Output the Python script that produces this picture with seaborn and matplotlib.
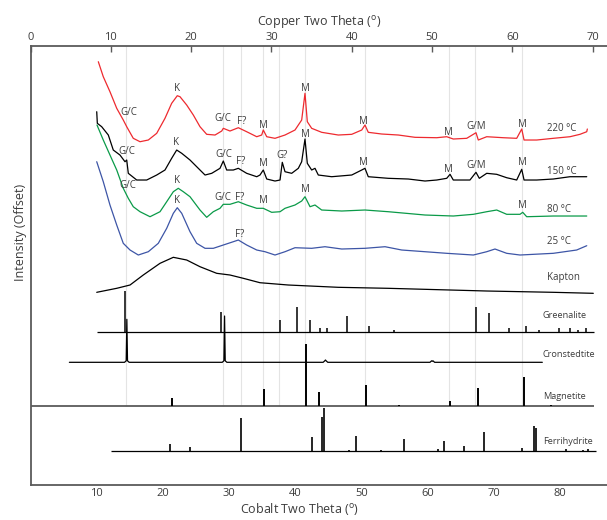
"""
XRD patterns (offset) with reference phase stick patterns.
Bottom axis: Cobalt two theta, top axis: Copper two theta.
"""

import numpy as np
import pandas as pd
import matplotlib
matplotlib.use("Agg")
import matplotlib.pyplot as plt
import seaborn as sns

sns.set_theme(style="white")
plt.rcParams['font.family'] = ['Open Sans', 'DejaVu Sans']
plt.rcParams['mathtext.default'] = 'regular'

# Co two theta -> Cu two theta (linear approximation used on the top axis)
CU_PER_CO = 0.8244

# ---- measured patterns (Co two theta, offset intensity) ----
red_x = [10.23, 10.98, 11.99, 13.01, 14.00, 14.52, 15.51, 16.53, 17.78, 19.05, 20.30, 21.31, 22.16, 22.57,
         23.58, 24.58, 25.59, 26.60, 27.86, 28.87, 29.11, 30.12, 31.38, 32.64, 34.16, 34.91, 35.15, 35.67,
         36.92, 38.43, 39.94, 40.95, 41.45, 41.80, 42.46, 43.97, 46.48, 48.51, 50.02, 50.51, 51.01, 53.04,
         55.55, 58.07, 61.35, 62.86, 63.85, 65.88, 67.28, 67.63, 68.90, 71.41, 73.43, 74.19, 74.54, 76.45,
         78.96, 81.48, 82.99, 84.01, 84.10]
red_y = [423.3, 408.3, 393.3, 376.7, 365.0, 358.3, 346.7, 343.3, 345.0, 351.7, 366.7, 381.7, 389.3, 388.3,
         380.0, 370.0, 358.3, 350.7, 350.0, 354.0, 356.7, 354.0, 357.3, 353.3, 348.3, 350.0, 355.0, 348.3,
         346.7, 350.0, 355.0, 365.0, 391.7, 363.3, 356.7, 352.7, 350.0, 350.7, 355.0, 360.0, 352.7, 351.0,
         350.0, 347.7, 347.3, 348.3, 346.0, 346.7, 352.3, 345.0, 348.3, 347.3, 346.7, 356.0, 345.0, 345.0,
         346.7, 348.3, 350.7, 353.3, 356.0]

black_x = [9.99, 10.08, 10.74, 11.74, 12.49, 13.50, 14.26, 14.52, 14.76, 16.03, 17.54, 19.05, 20.30, 21.31,
           22.07, 22.83, 24.08, 25.09, 26.35, 27.36, 28.61, 29.11, 29.62, 30.62, 31.38, 32.64, 34.16, 34.65,
           35.15, 35.67, 36.92, 37.68, 38.02, 38.43, 39.44, 40.44, 40.95, 41.45, 41.80, 42.46, 42.96, 43.46,
           45.48, 48.51, 50.02, 50.51, 51.01, 54.03, 57.05, 59.58, 61.35, 62.86, 63.36, 63.85, 66.37, 67.28,
           67.78, 68.90, 70.41, 71.92, 73.43, 74.19, 74.54, 76.45, 78.96, 81.48, 84.01]
black_y = [373.3, 361.7, 358.3, 350.0, 335.0, 330.0, 323.3, 325.0, 311.7, 305.0, 305.0, 310.0, 315.0, 326.7,
           335.0, 331.7, 325.0, 318.3, 310.0, 311.7, 316.7, 324.0, 315.0, 315.0, 316.7, 311.7, 308.3, 310.0,
           315.0, 306.0, 304.0, 305.0, 322.7, 313.3, 311.7, 316.7, 323.3, 346.0, 321.7, 315.0, 316.7, 310.0,
           308.3, 310.0, 315.0, 316.7, 308.3, 306.7, 306.0, 304.0, 305.0, 306.7, 310.7, 305.0, 305.0, 312.7,
           306.7, 311.7, 310.7, 307.3, 305.0, 315.7, 305.0, 305.0, 306.0, 308.3, 308.3]

green_x = [10.03, 10.98, 11.99, 13.01, 14.00, 14.76, 15.51, 16.53, 18.04, 19.55, 20.56, 21.56, 22.31, 23.07,
           24.08, 25.59, 26.60, 27.60, 28.61, 29.11, 30.12, 31.38, 32.64, 34.16, 35.15, 36.42, 37.68, 38.43,
           39.94, 40.95, 41.45, 42.21, 42.96, 43.97, 47.00, 50.51, 54.03, 59.58, 63.85, 66.88, 68.90, 70.41,
           71.92, 73.93, 74.34, 74.94, 78.96, 84.01]
green_y = [360.0, 345.0, 330.0, 315.0, 296.7, 286.7, 278.3, 273.3, 268.3, 273.3, 283.3, 293.3, 296.7, 293.3,
           288.3, 275.0, 267.7, 273.3, 276.7, 280.7, 280.7, 283.3, 280.0, 276.7, 276.7, 272.7, 273.3, 276.7,
           280.0, 284.0, 288.3, 278.3, 280.0, 275.0, 274.0, 275.0, 273.3, 270.0, 269.0, 270.7, 273.3, 275.0,
           270.7, 270.7, 272.7, 268.3, 269.0, 269.0]

blue_x = [9.99, 10.98, 11.99, 13.01, 14.00, 15.02, 16.27, 17.78, 19.29, 20.56, 21.56, 22.16, 22.83, 24.08,
          25.09, 26.35, 27.60, 29.11, 30.62, 31.38, 32.64, 34.16, 35.41, 36.92, 38.43, 39.94, 42.46, 44.47,
          47.00, 50.51, 53.54, 56.06, 59.58, 62.86, 66.88, 68.90, 70.15, 71.92, 73.93, 78.96, 82.49, 84.01]
blue_y = [323.3, 303.3, 280.0, 260.0, 241.7, 235.0, 230.0, 233.3, 241.7, 256.7, 271.7, 277.3, 271.7, 253.3,
          241.7, 236.7, 236.7, 240.0, 243.3, 245.0, 240.0, 235.0, 233.3, 230.0, 233.3, 237.3, 236.7, 238.3,
          236.0, 236.7, 238.3, 235.0, 233.3, 231.7, 230.0, 233.3, 236.0, 231.7, 230.0, 231.7, 235.0, 239.3]

kapton_x = [9.99, 13.01, 15.02, 17.02, 19.55, 21.56, 23.58, 25.59, 28.11, 30.12, 32.13, 34.65, 38.93, 46.48,
            54.03, 68.90, 78.96, 85.00]
kapton_y = [192.7, 196.7, 200.0, 210.0, 221.7, 227.7, 225.0, 218.3, 211.7, 210.0, 206.7, 202.3, 200.0, 197.7,
            196.7, 194.0, 192.7, 191.7]

# ---- reference phases ----
greenalite_base = 152.7
greenalite_span = [10.1, 85.1]
greenalite_pos = [14.28, 28.76, 37.62, 40.26, 42.27, 43.74, 44.80, 47.82, 51.15, 54.93, 67.34, 69.24,
                  72.33, 74.90, 76.87, 79.79, 81.45, 82.62, 83.92]
greenalite_h = [41.3, 20.6, 12.3, 25.0, 12.3, 4.0, 4.0, 16.6, 6.3, 2.3, 25.0, 19.0, 4.0, 6.3, 2.3, 4.0, 4.0,
                2.3, 4.0]

cronstedtite_base = 122.7
cronstedtite_span = [5.86, 77.3]
cronstedtite_pos = [14.54, 29.30, 44.54, 60.68]
cronstedtite_h = [43.0, 46.3, 2.3, 1.0]

magnetite_base = 79.3
magnetite_span = [0.0, 85.1]
magnetite_pos = [21.39, 35.26, 41.62, 43.58, 50.70, 55.60, 63.30, 67.64, 74.54, 78.60]
magnetite_h = [7.4, 16.7, 61.4, 13.4, 20.7, 0.8, 5.0, 17.4, 29.0, 0.8]

ferri_base = 33.7
ferri_span = [12.16, 85.4]
ferri_pos = [20.99, 24.11, 31.78, 42.57, 44.04, 44.29, 48.17, 49.13, 52.86, 56.38, 61.48, 62.39, 65.52,
             68.55, 74.24, 76.11, 76.41, 77.87, 80.85, 83.52, 84.22]
ferri_h = [7.0, 4.6, 33.0, 14.0, 34.0, 43.0, 1.5, 15.3, 1.0, 12.3, 2.5, 10.3, 5.3, 19.6, 3.3, 25.3, 23.6,
           0.5, 2.5, 1.0, 2.5]

# reference lines, in Cu two theta
guide_cu = [11.86, 24.01, 26.17, 28.98, 30.90, 34.17, 41.68, 52.10, 55.39, 61.24]

# ---- annotations ----
peak_text = ["G/C", "K", "G/C", "F?", "M", "M", "M", "M", "G/M", "M",
             "G/C", "K", "G/C", "F?", "M", "G?", "M", "M", "M", "G/M", "M",
             "G/C", "K", "G/C", "F?", "M", "M", "M",
             "K", "F?"]
peak_x = [14.91, 22.16, 29.11, 31.89, 35.15, 41.45, 50.26, 63.10, 67.28, 74.23,
          14.52, 21.97, 29.26, 31.74, 35.11, 38.02, 41.56, 50.26, 63.10, 67.28, 74.23,
          14.76, 22.07, 29.02, 31.63, 35.15, 41.56, 74.34,
          22.16, 31.53]
peak_y = [372.7, 396.7, 366.7, 364.0, 360.0, 396.7, 363.3, 352.7, 359.0, 360.7,
          333.3, 342.7, 331.0, 323.3, 321.7, 330.0, 351.0, 322.7, 315.7, 320.0, 322.7,
          299.3, 305.0, 287.7, 287.7, 284.3, 295.7, 280.0,
          285.0, 250.7]

sample_labels = ["220 \u00b0C", "150 \u00b0C", "80 \u00b0C", "25 \u00b0C", "Kapton"]
sample_label_y = [356.7, 313.7, 275.7, 244.0, 207.3]
phase_labels = ["Greenalite", "Cronstedtite", "Magnetite", "Ferrihydrite"]
phase_label_y = [169.3, 130.7, 89.0, 43.3]

RED = "#ee2a2f"
GREEN = "#0a9a48"
BLUE = "#3d55a6"
AXIS_GRAY = "#5a5a5a"
TEXT_GRAY = "#3c3c3c"

fig = plt.figure(figsize=(6.07, 5.2), dpi=100)
ax = fig.add_axes([0.0504, 0.0673, 0.9496, 0.8442])
ax.set_xlim(0, 87.07)
ax.set_ylim(0, 439)

# faint guide lines
for cu in guide_cu:
    ax.vlines(cu / CU_PER_CO, magnetite_base, 439, color="#e4e4e4", lw=0.8, zorder=0)

curves = [
    (red_x, red_y, RED),
    (black_x, black_y, "black"),
    (green_x, green_y, GREEN),
    (blue_x, blue_y, BLUE),
    (kapton_x, kapton_y, "black"),
]
for xs, ys, col in curves:
    df = pd.DataFrame({"x": xs, "y": ys})
    sns.lineplot(data=df, x="x", y="y", sort=False, estimator=None, color=col, lw=0.9, ax=ax)

# Greenalite sticks
ax.hlines(greenalite_base, *greenalite_span, color="black", lw=0.9)
ax.vlines(greenalite_pos, greenalite_base, np.add(greenalite_base, greenalite_h), color="black", lw=1.1)

# Cronstedtite: narrow peak profiles on a baseline
cx = [cronstedtite_span[0]]
cy = [cronstedtite_base]
for p, h in zip(cronstedtite_pos, cronstedtite_h):
    cx += [p - 0.35, p - 0.1, p, p + 0.1, p + 0.35]
    cy += [cronstedtite_base, cronstedtite_base + 1.5, cronstedtite_base + h,
           cronstedtite_base + 1.5, cronstedtite_base]
cx.append(cronstedtite_span[1])
cy.append(cronstedtite_base)
ax.plot(cx, cy, color="black", lw=0.9)

# Magnetite
ax.hlines(magnetite_base, *magnetite_span, color=AXIS_GRAY, lw=1.3)
ax.vlines(magnetite_pos, magnetite_base, np.add(magnetite_base, magnetite_h), color="black", lw=1.4)

# Ferrihydrite
ax.hlines(ferri_base, *ferri_span, color="black", lw=0.9)
ax.vlines(ferri_pos, ferri_base, np.add(ferri_base, ferri_h), color="black", lw=1.2)

for t, x, y in zip(peak_text, peak_x, peak_y):
    ax.text(x, y, t, ha="center", va="center", fontsize=7, color=TEXT_GRAY)
for t, y in zip(sample_labels, sample_label_y):
    ax.text(77.96, y, t, ha="left", va="center", fontsize=7, color=TEXT_GRAY)
for t, y in zip(phase_labels, phase_label_y):
    ax.text(77.36, y, t, ha="left", va="center", fontsize=6.6, color=TEXT_GRAY)

# axes styling
ax.set_yticks([])
ax.set_xticks(np.arange(10, 90, 10))
ax.tick_params(axis="x", direction="in", length=4, width=1, color=AXIS_GRAY,
               labelsize=8, labelcolor=TEXT_GRAY, pad=2)
for side in ["left", "bottom"]:
    ax.spines[side].set_color(AXIS_GRAY)
    ax.spines[side].set_linewidth(1.3)
ax.spines["right"].set_visible(False)
ax.spines["top"].set_visible(False)

ax.set_xlabel("Cobalt Two Theta ($^{o}$)", fontsize=9, color=TEXT_GRAY)
ax.xaxis.set_label_coords(0.467, -0.036)
ax.set_ylabel("Intensity (Offset)", fontsize=9, color=TEXT_GRAY)
ax.yaxis.set_label_coords(-0.006, 0.575)

top = ax.secondary_xaxis("top", functions=(lambda c: c * CU_PER_CO, lambda u: u / CU_PER_CO))
top.set_xticks(np.arange(0, 80, 10))
top.tick_params(axis="x", direction="in", length=4, width=1, color=AXIS_GRAY,
                labelsize=8, labelcolor=TEXT_GRAY, pad=2)
top.spines["top"].set_color(AXIS_GRAY)
top.spines["top"].set_linewidth(1.3)
top.set_xlabel("Copper Two Theta ($^{o}$)", fontsize=9, color=TEXT_GRAY, labelpad=5)

fig.savefig("out.png", dpi=100)
